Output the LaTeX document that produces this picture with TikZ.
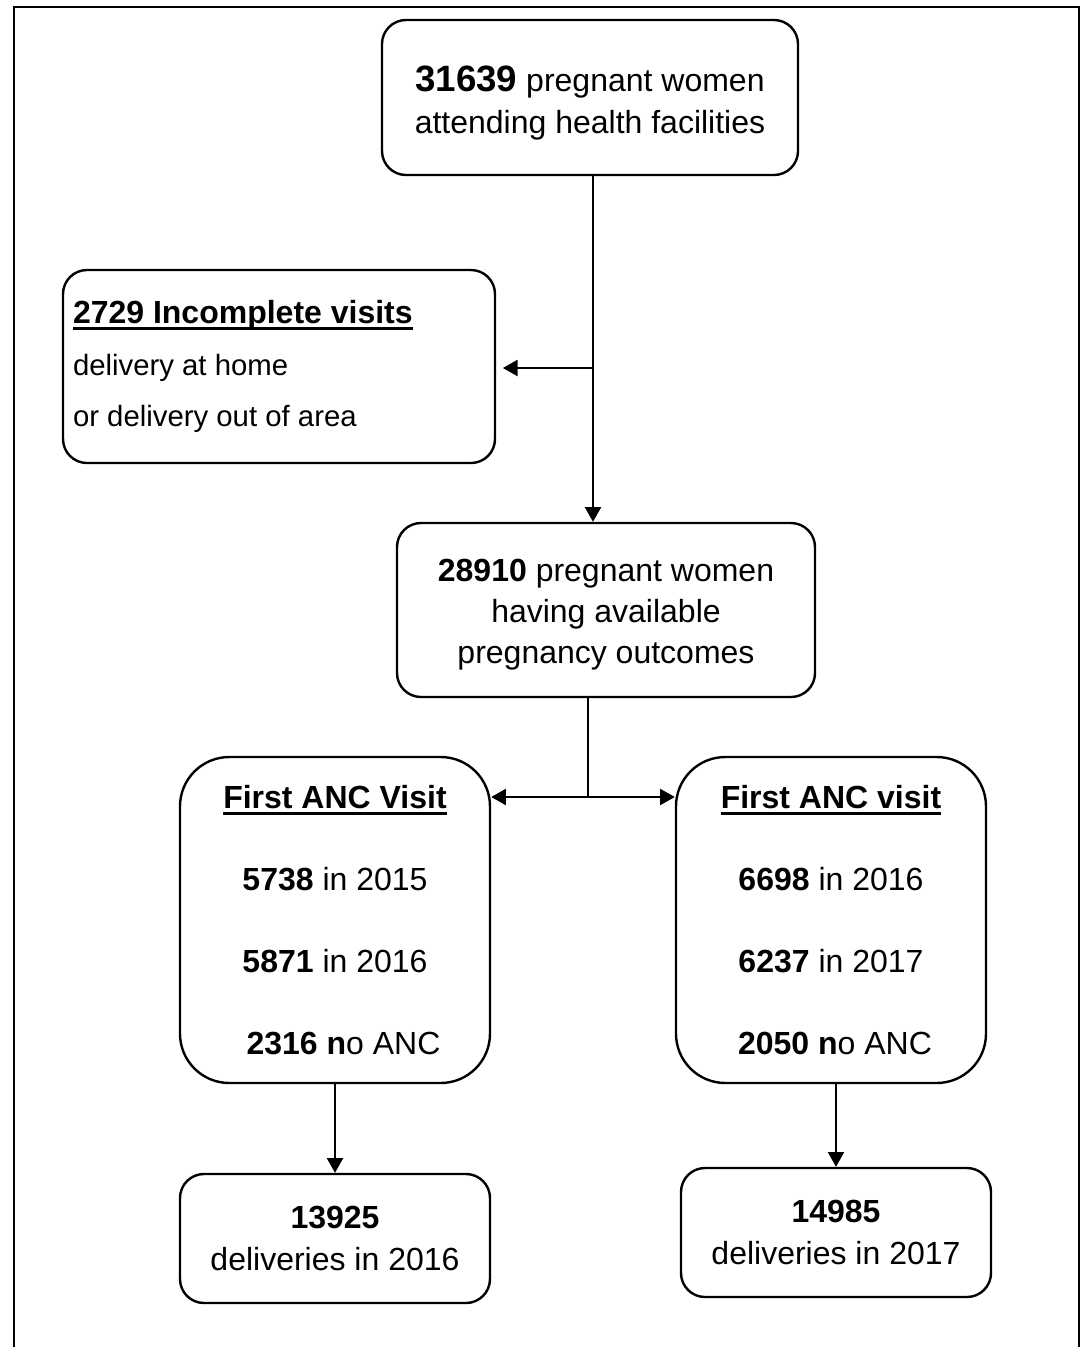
\documentclass[tikz,border=0pt]{standalone}
\usepackage{fontspec}
\setmainfont{Liberation Sans}
\usetikzlibrary{arrows.meta,positioning,calc}

% thick underline for the box headings
\newcommand{\headul}[1]{\setbox0\hbox{#1}\rlap{\rule[-4.9pt]{\wd0}{2.2pt}}\box0}

\begin{document}
\begin{tikzpicture}[x=0.75pt,y=-0.75pt,
    box/.style={draw,line width=1.8pt,rounded corners=18pt,align=center,inner sep=0pt,
      font=\fontsize{24}{31}\selectfont},
    ancbox/.style={box,rounded corners=37pt,minimum width=232.5pt,minimum height=244.5pt},
    flow/.style={line width=1.5pt,-{Triangle[length=11pt,width=12pt]}},
    flowboth/.style={line width=1.5pt,{Triangle[length=11pt,width=12pt]}-{Triangle[length=11pt,width=12pt]}}]
    \useasboundingbox (0,0) rectangle (1086,1347);

    % Frame
    \draw[line width=2pt] (14,1347) -- (14,7) -- (1079,7) -- (1079,1347);

    % Boxes
    \node[box,minimum width=312pt,minimum height=116.25pt] (top) at (590,97.5)
      {\rule{0pt}{27.5pt}{\fontsize{27.5}{31.5}\selectfont\textbf{31639}} pregnant women\\attending health facilities};
    \node[box,align=flush left,text width=309pt,inner xsep=7.5pt,minimum height=144.75pt,
      font=\fontsize{22}{38.6}\selectfont] (inc) at (279,366.5)
      {{\fontsize{24}{38.6}\selectfont\headul{\textbf{2729 Incomplete visits}}}\\delivery at home\\or delivery out of area};
    \node[box,minimum width=313.5pt,minimum height=130.5pt] (mid) at (606,610)
      {\rule{0pt}{23.5pt}\textbf{28910} pregnant women\\having available\\pregnancy outcomes};
    \node[ancbox] (ancL) at (335,920)
      {\headul{\textbf{First ANC Visit}}\\[30.5pt]\textbf{5738} in 2015\\[30.5pt]
       \textbf{5871} in 2016\\[30.5pt]\hspace*{12.75pt}\textbf{2316 n}o ANC};
    \node[ancbox] (ancR) at (831,920)
      {\headul{\textbf{First ANC visit}}\\[30.5pt]\textbf{6698} in 2016\\[30.5pt]
       \textbf{6237} in 2017\\[30.5pt]\hspace*{6pt}\textbf{2050 n}o ANC};
    \node[box,minimum width=232.5pt,minimum height=96.75pt] (delL) at (335,1238.5)
      {\textbf{13925}\\deliveries in 2016};
    \node[box,minimum width=232.5pt,minimum height=96.75pt] (delR) at (836,1232.5)
      {\textbf{14985}\\deliveries in 2017};

    % Connectors
    \coordinate (trunk) at (593,368);
    \coordinate (split) at (588,797);
    \draw[flow] (trunk |- top.south) -- (trunk |- mid.north);
    \draw[flow,shorten >=5pt] (trunk) -- (trunk -| inc.east);
    \draw[line width=0.8pt] (split |- mid.south) -- (split);
    \draw[flowboth] (ancL.east |- split) -- (ancR.west |- split);
    \draw[flow] (ancL.south) -- (delL.north);
    \draw[flow] (delR.north |- ancR.south) -- (delR.north);
\end{tikzpicture}
\end{document}
